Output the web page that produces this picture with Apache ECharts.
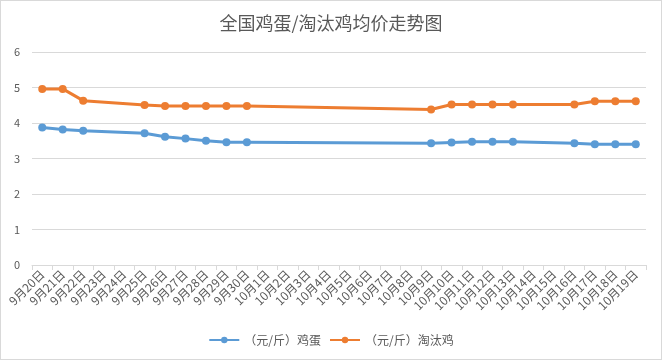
<!DOCTYPE html>
<html><head><meta charset="utf-8">
<script src="https://cdn.jsdelivr.net/npm/echarts@6/dist/echarts.min.js"></script>
<style>html,body{margin:0;padding:0;background:#fff;}#c{width:662px;height:360px;box-sizing:border-box;border:1px solid #d9d9d9;}</style>
</head><body><div id="c"></div>
<script>
const categories = ['9月20日','9月21日','9月22日','9月23日','9月24日','9月25日','9月26日','9月27日','9月28日','9月29日','9月30日','10月1日','10月2日','10月3日','10月4日','10月5日','10月6日','10月7日','10月8日','10月9日','10月10日','10月11日','10月12日','10月13日','10月14日','10月15日','10月16日','10月17日','10月18日','10月19日'];
const eggPrices = [3.87,3.82,3.78,null,null,3.71,3.61,3.56,3.50,3.46,3.46,null,null,null,null,null,null,null,null,3.43,3.45,3.47,3.47,3.47,null,null,3.43,3.40,3.40,3.40];
const henPrices = [4.96,4.96,4.63,null,null,4.51,4.48,4.48,4.48,4.48,4.48,null,null,null,null,null,null,null,null,4.38,4.52,4.52,4.52,4.52,null,null,4.52,4.61,4.61,4.61];
const seriesNames = ['（元/斤）鸡蛋','（元/斤）淘汰鸡'];
const yTicks = {min:0,max:6,interval:1};
const font = '"Noto Sans CJK SC","Noto Sans",sans-serif';
const chart = echarts.init(document.getElementById('c'));
chart.setOption({
  animation:false,
  title:{text:'全国鸡蛋/淘汰鸡均价走势图',left:'center',top:8,textStyle:{fontFamily:font,fontSize:18,fontWeight:'normal',color:'#595959'}},
  legend:{bottom:8,left:'center',itemWidth:30,itemHeight:8,itemGap:8,textStyle:{fontFamily:font,fontSize:12,color:'#595959'},data:seriesNames},
  grid:{left:31,right:15,top:51,bottom:94,containLabel:false},
  xAxis:{type:'category',data:categories,boundaryGap:true,
    axisLine:{lineStyle:{color:'#d9d9d9'}},axisTick:{show:true,alignWithLabel:false,lineStyle:{color:'#d9d9d9'}},
    axisLabel:{rotate:45,interval:0,fontFamily:font,fontSize:12,color:'#595959',margin:7}},
  yAxis:{type:'value',min:yTicks.min,max:yTicks.max,interval:yTicks.interval,
    axisLine:{show:false},axisTick:{show:false},
    splitLine:{lineStyle:{color:'#d9d9d9'}},
    axisLabel:{fontFamily:font,fontSize:11,color:'#595959',margin:12}},
  series:[
    {name:seriesNames[0],type:'line',data:eggPrices,connectNulls:true,symbol:'circle',symbolSize:8,
     itemStyle:{color:'#5B9BD5'},lineStyle:{width:3,color:'#5B9BD5'}},
    {name:seriesNames[1],type:'line',data:henPrices,connectNulls:true,symbol:'circle',symbolSize:8,
     itemStyle:{color:'#ED7D31'},lineStyle:{width:3,color:'#ED7D31'}}
  ]
});
</script></body></html>
